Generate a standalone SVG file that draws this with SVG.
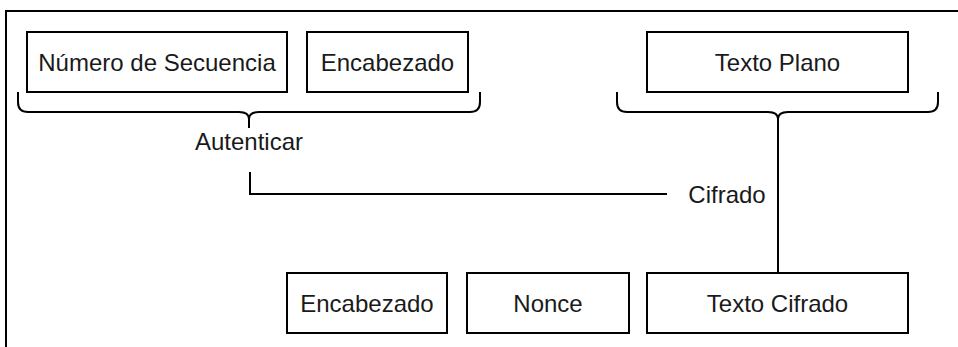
<svg xmlns="http://www.w3.org/2000/svg" width="958" height="347" viewBox="0 0 958 347">
  <style>
    .box { fill: #ffffff; stroke: #000000; stroke-width: 2; }
    .line { fill: none; stroke: #000000; stroke-width: 2; }
    .lbl { font-family: "Liberation Sans", Arial, sans-serif; font-size: 24px; fill: #1a1a1a; text-anchor: middle; dominant-baseline: central; }
  </style>
  <rect x="0" y="0" width="958" height="347" fill="#ffffff"/>
  <path class="line" d="M6,347 L6,11 L958,11"/>
  <g id="n-numero">
    <rect class="box" x="27" y="32" width="260" height="60"/>
    <text class="lbl" x="157" y="62">Número de Secuencia</text>
  </g>
  <g id="n-encabezado-top">
    <rect class="box" x="307" y="32" width="161" height="60"/>
    <text class="lbl" x="387.5" y="62">Encabezado</text>
  </g>
  <g id="n-textoplano">
    <rect class="box" x="647" y="32" width="261" height="60"/>
    <text class="lbl" x="777.5" y="62">Texto Plano</text>
  </g>
  <g id="n-brace-auth">
    <path class="line" d="M18,92 L18,102 Q18,112 28,112 L239,112 Q249,112 249,119 L249,128 M249,119 Q249,112 259,112 L470,112 Q480,112 480,102 L480,92"/>
    <text class="lbl" x="249" y="141">Autenticar</text>
  </g>
  <g id="n-brace-cif">
    <path class="line" d="M617,92 L617,102 Q617,112 627,112 L768,112 Q778,112 778,119 L778,128 M778,119 Q778,112 788,112 L928,112 Q938,112 938,102 L938,92"/>
  </g>
  <g id="n-cifrado">
    <text class="lbl" x="727" y="194">Cifrado</text>
  </g>
  <g id="n-encabezado-bot">
    <rect class="box" x="287" y="273" width="160" height="60"/>
    <text class="lbl" x="367" y="303">Encabezado</text>
  </g>
  <g id="n-nonce">
    <rect class="box" x="467" y="273" width="162" height="60"/>
    <text class="lbl" x="548" y="303">Nonce</text>
  </g>
  <g id="n-textocifrado">
    <rect class="box" x="647" y="273" width="261" height="60"/>
    <text class="lbl" x="777.5" y="303">Texto Cifrado</text>
  </g>
  <g id="connectors">
    <path class="line" d="M250,172 L250,194 L667,194"/>
    <path class="line" d="M778,128 L778,273"/>
  </g>
</svg>
